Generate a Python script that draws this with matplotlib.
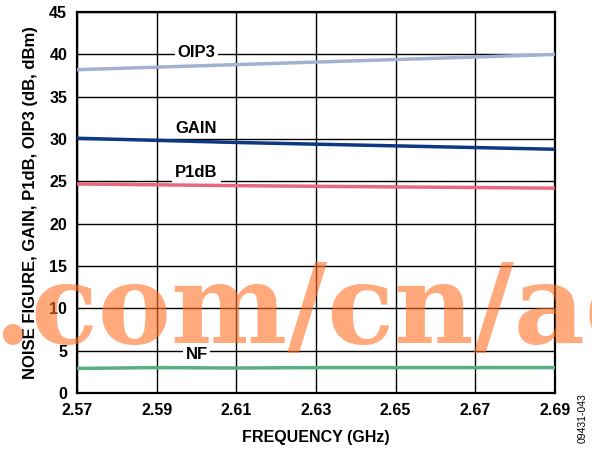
import matplotlib.pyplot as plt

# frequency sweep (GHz) and measured performance
freq = [2.57, 2.59, 2.61, 2.63, 2.65, 2.67, 2.69]
oip3 = [38.2, 38.5, 38.8, 39.1, 39.4, 39.7, 40.0]
gain = [30.1, 29.85, 29.6, 29.4, 29.2, 29.0, 28.8]
p1db = [24.7, 24.6, 24.5, 24.42, 24.35, 24.28, 24.2]
nf = [2.9, 3.0, 2.95, 3.0, 3.0, 3.0, 3.0]

x_ticks = [2.57, 2.59, 2.61, 2.63, 2.65, 2.67, 2.69]
y_ticks = [0, 5, 10, 15, 20, 25, 30, 35, 40, 45]

plt.rcParams['font.family'] = ['Liberation Sans', 'DejaVu Sans']

fig = plt.figure(figsize=(5.92, 4.5), dpi=100)
ax = fig.add_axes([0.130, 0.1267, 0.8075, 0.8463])

ax.plot(freq, oip3, color='#A0B2D0', lw=2.5, zorder=3)
ax.plot(freq, gain, color='#0B3A82', lw=2.5, zorder=3)
ax.plot(freq, p1db, color='#E8687F', lw=2.5, zorder=3)
ax.plot(freq, nf, color='#5AAE85', lw=2.5, zorder=3)

box = dict(facecolor='white', edgecolor='none', pad=2)
lbl = dict(ha='center', va='center', fontsize=12, fontweight='bold', zorder=4)
ax.text(2.600, 40.2, 'OIP3', bbox=box, **lbl)
ax.text(2.600, 31.3, 'GAIN', **lbl)
ax.text(2.600, 26.0, 'P1dB', bbox=box, **lbl)
ax.text(2.600, 4.6, 'NF', bbox=box, **lbl)

ax.set_xlim(2.57, 2.69)
ax.set_ylim(0, 45)
ax.set_xticks(x_ticks)
ax.set_xticklabels([f'{v:.2f}' for v in x_ticks])
ax.set_yticks(y_ticks)
ax.grid(True, color='black', lw=1.0, zorder=1)
ax.tick_params(length=0, labelsize=11.5, pad=7)
for t in ax.get_xticklabels() + ax.get_yticklabels():
    t.set_fontweight('bold')
for s in ax.spines.values():
    s.set_linewidth(1.6)

ax.set_xlabel('FREQUENCY (GHz)', fontsize=11.5, fontweight='bold', labelpad=9)
ax.set_ylabel('NOISE FIGURE, GAIN, P1dB, OIP3 (dB, dBm)', fontsize=12,
              fontweight='bold', labelpad=8)

fig.text(0.985, 0.07, '09431-043', rotation=90, fontsize=7.5,
         ha='center', va='center')

# site watermark across the lower half
fig.text(-0.012, 0.238, '.com/cn/ad', fontsize=79, fontweight='bold',
         family='DejaVu Serif', color=(1.0, 0.44, 0.15), alpha=0.6,
         ha='left', va='baseline', zorder=10)

fig.savefig('out.png', dpi=100)
